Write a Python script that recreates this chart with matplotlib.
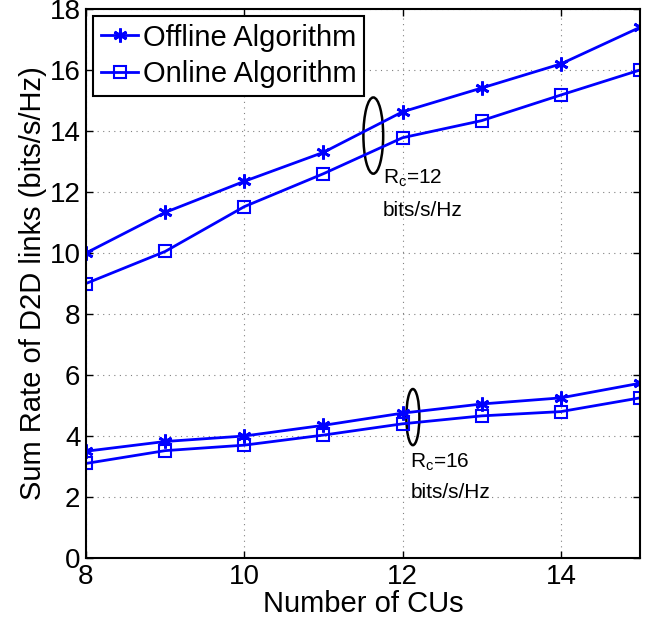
import matplotlib
matplotlib.use("Agg")
import matplotlib.pyplot as plt
from matplotlib.patches import Ellipse

plt.rcParams['font.family'] = ['Liberation Sans', 'DejaVu Sans']

# number of CUs
cus = [8, 9, 10, 11, 12, 13, 14, 15]

# Rc = 12 bits/s/Hz
offline_12 = [10.0, 11.33, 12.35, 13.3, 14.63, 15.41, 16.2, 17.4]
online_12 = [9.0, 10.05, 11.52, 12.6, 13.78, 14.34, 15.18, 16.0]

# Rc = 16 bits/s/Hz
offline_16 = [3.5, 3.82, 4.0, 4.35, 4.75, 5.05, 5.25, 5.73]
online_16 = [3.1, 3.52, 3.7, 4.03, 4.4, 4.66, 4.8, 5.25]

fig = plt.figure(figsize=(6.64, 6.25), dpi=100)
ax = fig.add_axes([0.1295, 0.1072, 0.8344, 0.8784])

star = (6, 2, 0)
ax.plot(cus, offline_12, color='b', lw=2, marker=star, ms=10, mew=2,
        label='Offline Algorithm')
ax.plot(cus, online_12, color='b', lw=2, marker='s', ms=8, mew=1.5,
        mfc='none', label='Online Algorithm')
ax.plot(cus, offline_16, color='b', lw=2, marker=star, ms=10, mew=2)
ax.plot(cus, online_16, color='b', lw=2, marker='s', ms=8, mew=1.5,
        mfc='none')

ax.add_patch(Ellipse((11.63, 13.85), 0.25, 2.5, fill=False, ec='k', lw=1.8))
ax.add_patch(Ellipse((12.13, 4.62), 0.165, 1.84, fill=False, ec='k', lw=1.8))

ax.text(11.75, 12.46, r'R$_\mathregular{c}$=12', fontsize=15, va='center')
ax.text(11.75, 11.4, 'bits/s/Hz', fontsize=15, va='center')
ax.text(12.1, 3.15, r'R$_\mathregular{c}$=16', fontsize=15, va='center')
ax.text(12.1, 2.16, 'bits/s/Hz', fontsize=15, va='center')

ax.set_xlim(8, 15)
ax.set_ylim(0, 18)
ax.set_xticks([8, 10, 12, 14])
ax.set_yticks(range(0, 19, 2))
ax.tick_params(direction='in', labelsize=20, length=5, width=1, pad=4,
               top=True, right=True)
ax.grid(True, linestyle=(0, (1, 4)), color='gray', lw=0.8)
for s in ax.spines.values():
    s.set_linewidth(1.5)

ax.set_xlabel('Number of CUs', fontsize=21, labelpad=0)
ax.set_ylabel('Sum Rate of D2D links (bits/s/Hz)', fontsize=21, labelpad=2)

leg = ax.legend(loc='upper left', fontsize=21, fancybox=False, framealpha=1,
                edgecolor='k', borderpad=0.25, labelspacing=0.3,
                handlelength=1.3, handletextpad=0.15, borderaxespad=0.25)
leg.get_frame().set_linewidth(1.5)

fig.savefig('out.png', dpi=100)
